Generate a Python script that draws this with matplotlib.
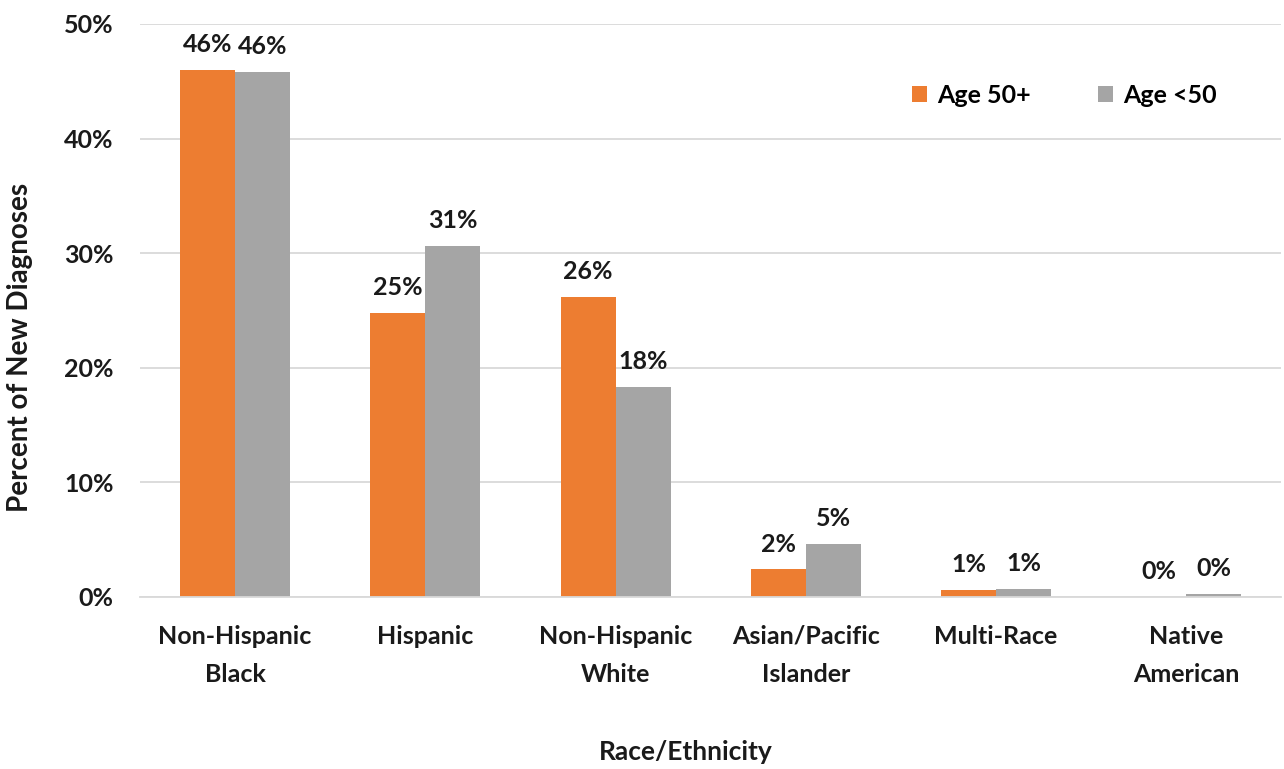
import matplotlib.pyplot as plt
import numpy as np

plt.rcParams['font.family'] = ['Lato', 'DejaVu Sans']
plt.rcParams['font.weight'] = 'bold'

groups = ['Non-Hispanic\nBlack', 'Hispanic', 'Non-Hispanic\nWhite',
          'Asian/Pacific\nIslander', 'Multi-Race', 'Native\nAmerican']
age_50_plus = [46.0, 24.8, 26.2, 2.4, 0.6, 0.0]
age_under_50 = [45.8, 30.6, 18.3, 4.6, 0.7, 0.3]

orange = '#ED7D31'
grey = '#A5A5A5'
ink = '#1a1a1a'

fig = plt.figure(figsize=(12.84, 7.69), dpi=100)
ax = fig.add_axes([0.109, 0.2237, 0.889, 0.7451])

x = np.arange(len(groups))
w = 0.289
b1 = ax.bar(x - w / 2, age_50_plus, w, color=orange, label='Age 50+')
b2 = ax.bar(x + w / 2, age_under_50, w, color=grey, label='Age <50')

for bars, vals in ((b1, age_50_plus), (b2, age_under_50)):
    for bar, v in zip(bars, vals):
        ax.annotate(f'{v:.0f}%', (bar.get_x() + bar.get_width() / 2, v),
                    xytext=(0, 10), textcoords='offset points',
                    ha='center', va='bottom', fontsize=18, fontweight='bold',
                    color=ink)

ax.set_xlim(-0.5, len(groups) - 0.5)
ax.set_ylim(0, 50)
ax.set_yticks(range(0, 51, 10))
ax.set_yticklabels([f'{t}%' for t in range(0, 51, 10)])
ax.set_xticks(x)
ax.set_xticklabels(groups, linespacing=1.8)
ax.tick_params(axis='both', length=0, labelsize=18, colors=ink)
ax.tick_params(axis='x', pad=20)
ax.tick_params(axis='y', pad=19)

ax.yaxis.grid(True, color='#D9D9D9', linewidth=1.3)
ax.set_axisbelow(True)
for s in ('top', 'right', 'left'):
    ax.spines[s].set_visible(False)
ax.spines['bottom'].set_color('#D9D9D9')
ax.spines['bottom'].set_linewidth(1.3)

fig.text(0.0155, 0.548, 'Percent of New Diagnoses', rotation=90,
         ha='center', va='center', fontsize=20, fontweight='bold', color=ink)
fig.text(0.534, 0.022, 'Race/Ethnicity', ha='center', va='center',
         fontsize=19, fontweight='bold', color=ink)

ax.legend(loc='upper right', bbox_to_anchor=(0.963, 0.935), ncol=2, frameon=False,
          fontsize=18, handlelength=0.6, handleheight=0.6, handletextpad=0.4,
          columnspacing=2.7)

fig.savefig('out.png', dpi=100)
